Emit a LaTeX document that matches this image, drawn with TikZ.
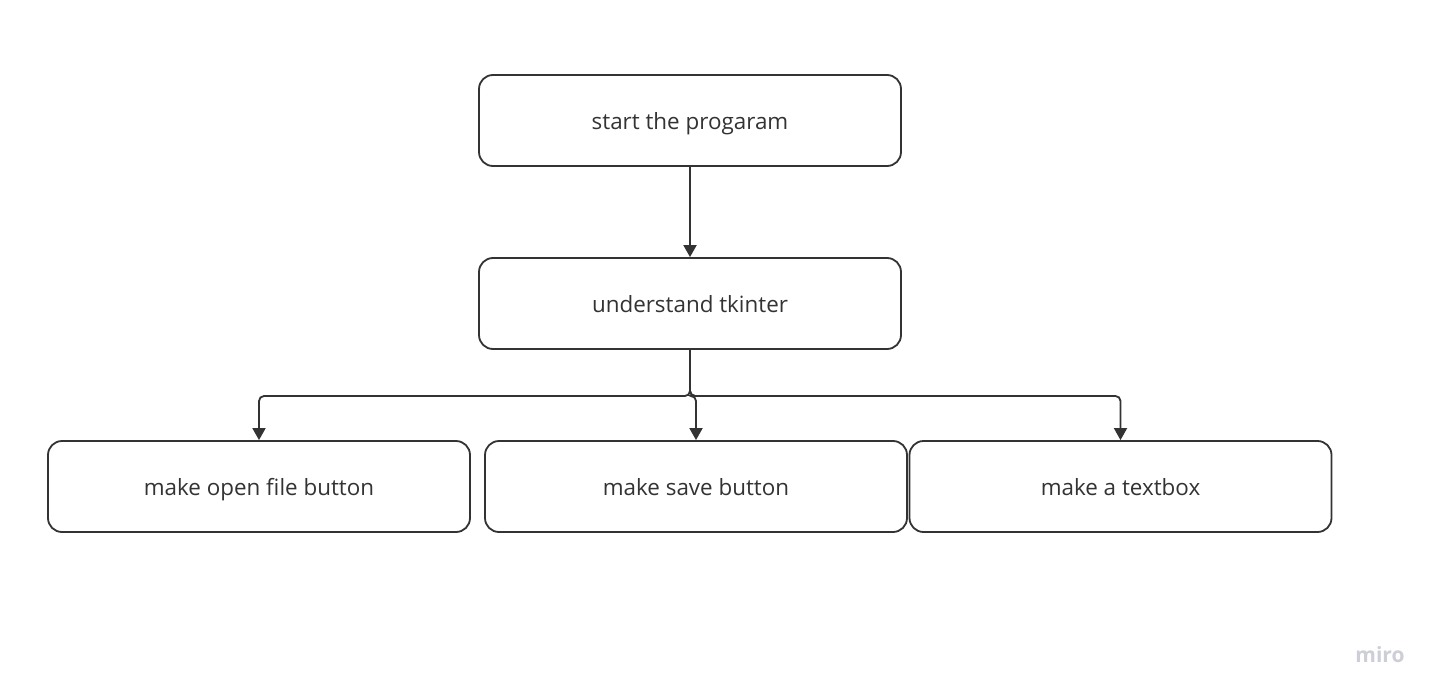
\documentclass[tikz,border=0pt]{standalone}
\usepackage{fontspec}
\setmainfont{Open Sans}
\usetikzlibrary{arrows.meta,positioning,calc}
\definecolor{ink}{HTML}{333333}
\definecolor{logo}{HTML}{CDCED6}
\begin{document}
\begin{tikzpicture}[x=1pt,y=-1pt,
  box/.style={draw=ink,line width=1.8pt,rounded corners=14pt,minimum width=422pt,minimum height=91pt,inner sep=0pt,text height=17pt,text depth=0pt,font=\fontsize{22.4}{26}\selectfont,text=ink},
  conn/.style={draw=ink,line width=1.8pt,rounded corners=5pt,-{Triangle[length=12pt,width=13pt]}}]
\useasboundingbox[fill=white] (0,0) rectangle (1436,696);
\node[box] (top) at (690,120.5) {start the progaram};
\node[box] (mid) at (690,303.5) {understand tkinter};
\node[box] (bl) at (259,486.5) {make open file button};
\node[box] (bm) at (696,486.5) {make save button};
\node[box] (br) at (1120.5,486.5) {make a textbox};
\coordinate (j) at (690,396);
\draw[conn] (top) -- (mid);
\draw[conn] (mid.south) -- (j) -| (bl.north);
\draw[conn] (mid.south) -- (j) -| (bm.north);
\draw[conn] (mid.south) -- (j) -| (br.north);
\node[text=logo,font=\fontsize{21}{24}\selectfont\bfseries] (miro) at (1380,655) {miro};
\end{tikzpicture}
\end{document}
